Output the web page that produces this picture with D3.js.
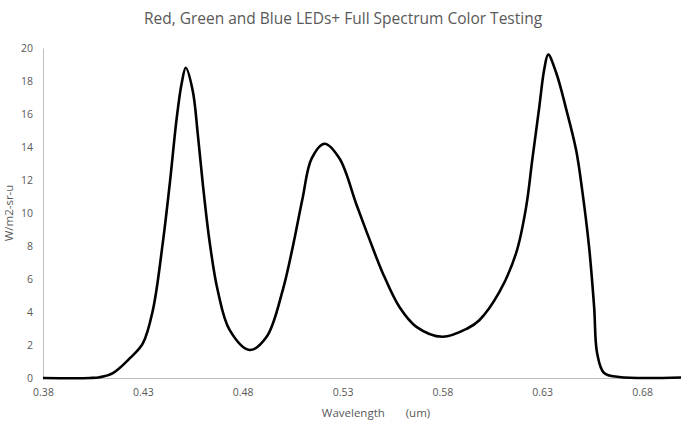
<!DOCTYPE html>
<html>
<head>
<meta charset="utf-8">
<script src="https://cdn.jsdelivr.net/npm/d3@7"></script>
<style>
  body { margin: 0; background: #fff; }
  text { font-family: "Open Sans", sans-serif; fill: #595959; }
</style>
</head>
<body>
<div id="chart"></div>
<script>
// wavelength (um) and radiance (W/m2-sr-u)
var wavelength = [0.38, 0.4035, 0.4085, 0.415, 0.4235, 0.43, 0.435, 0.44, 0.4435, 0.447, 0.4495, 0.4515,
  0.455, 0.4575, 0.46, 0.4635, 0.4675, 0.4735, 0.4835, 0.492, 0.5, 0.505, 0.51, 0.5145, 0.521,
  0.5285, 0.537, 0.5435, 0.55, 0.5585, 0.567, 0.58, 0.5925, 0.5985, 0.6085, 0.617, 0.622, 0.625,
  0.6285, 0.631, 0.633, 0.637, 0.642, 0.647, 0.65, 0.6535, 0.656, 0.6575, 0.661, 0.6685, 0.70];
var radiance = [0, 0, 0.05, 0.3, 1.2, 2.1, 4.1, 8.2, 11.8, 15.8, 17.9, 18.8,
  17.4, 14.8, 11.8, 8.2, 5.3, 2.9, 1.7, 2.5, 5.3, 7.9, 10.9, 13.3, 14.2,
  13.3, 10.5, 8.4, 6.4, 4.3, 3.1, 2.5, 3.0, 3.5, 5.2, 7.6, 10.4, 13.2,
  16.4, 18.7, 19.6, 18.5, 16.3, 13.8, 11.4, 7.9, 4.3, 1.5, 0.3, 0.06, 0.03];
var xTicks = [0.38, 0.43, 0.48, 0.53, 0.58, 0.63, 0.68];
var yTicks = [0, 2, 4, 6, 8, 10, 12, 14, 16, 18, 20];

var width = 681, height = 422;

var svg = d3.select("#chart").append("svg")
  .attr("width", width)
  .attr("height", height);

var x = d3.scaleLinear().domain([0.38, 0.70]).range([43, 682]);
var y = d3.scaleLinear().domain([0, 20]).range([378, 48]);

// title
svg.append("text")
  .attr("x", 343).attr("y", 24)
  .attr("text-anchor", "middle")
  .style("font-size", "15.5px")
  .text("Red, Green and Blue LEDs+ Full Spectrum Color Testing");

// axes (Excel style, no tick marks)
var xAxis = svg.append("g")
  .attr("transform", "translate(0," + y(0) + ")")
  .call(d3.axisBottom(x).tickValues(xTicks).tickSize(0).tickPadding(11)
    .tickFormat(d3.format(".2f")));
xAxis.select(".domain").attr("stroke", "#bfbfbf");
xAxis.selectAll("text").style("font-size", "10.5px").style("fill", "#595959");

var yAxis = svg.append("g")
  .attr("transform", "translate(" + x(0.38) + ",0)")
  .call(d3.axisLeft(y).tickValues(yTicks).tickSize(0).tickPadding(10));
yAxis.select(".domain").attr("stroke", "#bfbfbf");
yAxis.selectAll("text").style("font-size", "10.5px").style("fill", "#595959");

// axis titles
svg.append("text")
  .attr("transform", "translate(13," + 213 + ") rotate(-90)")
  .attr("text-anchor", "middle")
  .style("font-size", "11.5px")
  .text("W/m2-sr-u");

svg.append("text")
  .attr("x", 376).attr("y", 417)
  .attr("text-anchor", "middle")
  .style("font-size", "11.5px")
  .style("white-space", "pre")
  .text("Wavelength       (um)");

// spectrum
var line = d3.line()
  .x(function(d, i) { return x(wavelength[i]); })
  .y(function(d) { return y(d); })
  .curve(d3.curveCatmullRom.alpha(0.5));

svg.append("path")
  .datum(radiance)
  .attr("d", line)
  .attr("fill", "none")
  .attr("stroke", "#000")
  .attr("stroke-width", 2.6);
</script>
</body>
</html>
